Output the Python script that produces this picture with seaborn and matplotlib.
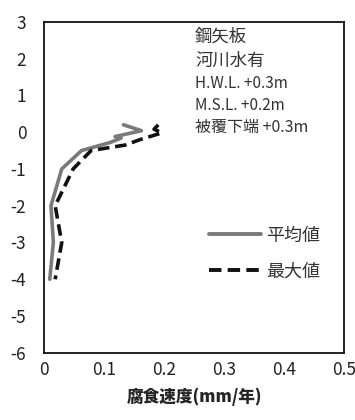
import numpy as np
import pandas as pd
import matplotlib
matplotlib.use('Agg')
import matplotlib.pyplot as plt
import seaborn as sns

sns.set_style('white')
plt.rcParams['font.family'] = ['Noto Sans CJK JP', 'DejaVu Sans']
plt.rcParams['axes.unicode_minus'] = False

# depth (m) vs corrosion rate (mm/year)
mean_depth = [0.2, 0.04, -0.12, -0.16, -0.28, -0.5, -1.0, -2.0, -3.0, -4.0]
mean_rate = [0.132, 0.162, 0.118, 0.128, 0.11, 0.062, 0.029, 0.011, 0.015, 0.009]

max_depth = [0.2, 0.08, -0.02, -0.2, -0.35, -0.5, -1.0, -2.0, -3.0, -4.0]
max_rate = [0.19, 0.183, 0.196, 0.16, 0.135, 0.078, 0.048, 0.018, 0.029, 0.018]

series_names = ['平均値', '最大値']
notes = ['鋼矢板', '河川水有', 'H.W.L. +0.3m', 'M.S.L. +0.2m', '被覆下端 +0.3m']

df = pd.concat([
    pd.DataFrame({'rate': mean_rate, 'depth': mean_depth, 'series': series_names[0]}),
    pd.DataFrame({'rate': max_rate, 'depth': max_depth, 'series': series_names[1]}),
])

fig = plt.figure(figsize=(3.55, 4.2), dpi=100)
ax = fig.add_axes([0.125, 0.16, 0.844, 0.788])

sns.lineplot(data=df, x='rate', y='depth', hue='series', style='series',
             palette=['#7a7a7a', '#111111'], dashes=['', (3.2, 1.6)],
             sort=False, estimator=None, linewidth=2.6, ax=ax)

ax.set_xlim(0, 0.5)
ax.set_ylim(-6, 3)
ax.set_xticks(np.arange(0, 0.51, 0.1))
ax.set_xticklabels(['0', '0.1', '0.2', '0.3', '0.4', '0.5'])
ax.set_yticks(range(-6, 4))
ax.tick_params(axis='x', direction='in', length=4, width=1, pad=6, labelsize=12.5, colors='#222222')
ax.tick_params(axis='y', direction='in', length=4, width=1, pad=13, labelsize=12.5, colors='#222222')
for s in ax.spines.values():
    s.set_color('#111111')
    s.set_linewidth(1.3)

ax.set_xlabel('腐食速度(mm/年)', fontsize=12, fontweight='heavy', labelpad=6)
ax.set_ylabel('')

ys = [0.955, 0.882, 0.813, 0.746, 0.68]
sizes = [12.5, 12.5, 11, 11, 11.5]
for txt, yy, size in zip(notes, ys, sizes):
    ax.text(0.503, yy, txt, transform=ax.transAxes, fontsize=size,
            color='#333333', va='center', ha='left')

leg = ax.legend(loc='center left', bbox_to_anchor=(0.495, 0.30), frameon=False,
                fontsize=13, handlelength=2.9, handletextpad=0.25, labelspacing=1.0)
for line in leg.get_lines():
    line.set_linewidth(2.8)
for t in leg.get_texts():
    t.set_color('#333333')

fig.savefig('out.png', dpi=100)
